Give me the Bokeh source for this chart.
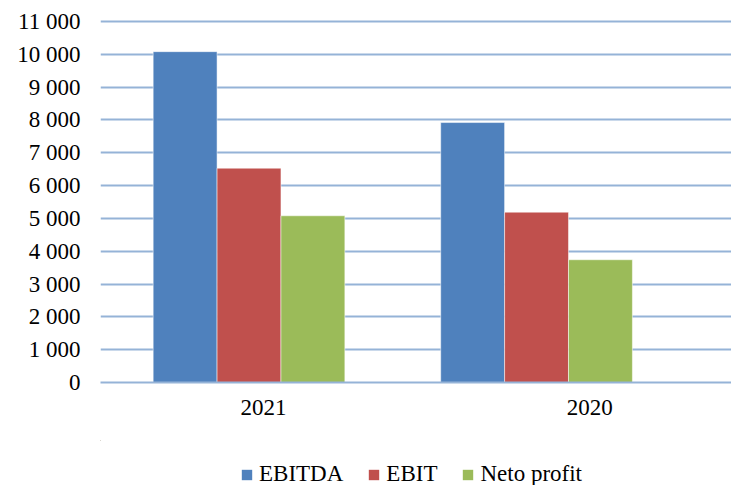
from bokeh.plotting import figure
from bokeh.layouts import column
from bokeh.models import Range1d, LinearAxis, FixedTicker, Legend, LegendItem, ColumnDataSource
from bokeh.transform import dodge
from bokeh.embed import file_html
from bokeh.resources import INLINE

# ---- data ----
years = ["2021", "2020"]
series_names = ["EBITDA", "EBIT", "Neto profit"]
ebitda = [10080, 7920]
ebit = [6530, 5190]
neto = [5080, 3740]
y_ticks = [0, 1000, 2000, 3000, 4000, 5000, 6000, 7000, 8000, 9000, 10000, 11000]
y_tick_labels = ["0", "1 000", "2 000", "3 000", "4 000", "5 000", "6 000",
                 "7 000", "8 000", "9 000", "10 000", "11 000"]
colors = ["#4F81BD", "#C0504D", "#9BBB59"]

FONT = "'Liberation Serif'"
GRID = "#95B3D7"

xc = [i + 0.5 for i in range(len(years))]
src = ColumnDataSource(dict(x=xc, ebitda=ebitda, ebit=ebit, neto=neto))
cols = ["ebitda", "ebit", "neto"]

p = figure(width=731, height=440, output_backend="svg", toolbar_location=None,
           x_range=Range1d(-0.0165, 2.178), y_range=Range1d(0, 11060),
           x_axis_type=None,
           min_border_left=100, min_border_right=0, min_border_top=19, min_border_bottom=58)
p.outline_line_color = None
p.background_fill_color = "white"

bw = 1 / 4.5
for i, (col, c) in enumerate(zip(cols, colors)):
    p.vbar(x=dodge("x", (i - 1) * bw, range=p.x_range), top=col, bottom=0, width=bw,
           source=src, fill_color=c, line_color="white", line_alpha=0.5, line_width=1)

# y axis
p.yaxis.ticker = FixedTicker(ticks=y_ticks)
p.yaxis.major_label_overrides = {t: l for t, l in zip(y_ticks, y_tick_labels)}
p.yaxis.axis_line_color = None
p.yaxis.major_tick_line_color = None
p.yaxis.minor_tick_line_color = None
p.yaxis.major_tick_out = 0
p.yaxis.major_label_standoff = 20
p.yaxis.major_label_text_font = FONT
p.yaxis.major_label_text_font_size = "23px"
p.yaxis.major_label_text_color = "black"

p.ygrid.ticker = FixedTicker(ticks=y_ticks)
p.ygrid.grid_line_color = GRID
p.ygrid.grid_line_width = 2

# category label axis
p.extra_x_ranges = {"lab": Range1d(0, 1.935)}
ax = LinearAxis(x_range_name="lab", ticker=FixedTicker(ticks=xc),
                major_label_overrides={x: y for x, y in zip(xc, years)})
ax.major_tick_line_color = None
ax.minor_tick_line_color = None
ax.major_tick_out = 0
ax.axis_line_color = GRID
ax.axis_line_width = 2
ax.major_label_standoff = 17
ax.major_label_text_font = FONT
ax.major_label_text_font_size = "23px"
ax.major_label_text_color = "black"
p.add_layout(ax, "below")

# ---- legend strip (same bars, kept far outside its visible ranges) ----
p2 = figure(width=731, height=45, output_backend="svg", toolbar_location=None,
            x_range=Range1d(100, 101), y_range=Range1d(-2, -1),
            x_axis_type=None, y_axis_type=None,
            min_border_left=0, min_border_right=0, min_border_top=0, min_border_bottom=0)
p2.outline_line_color = None
p2.xgrid.visible = False
p2.ygrid.visible = False
leg_renderers = [p2.vbar(x="x", top=col, bottom=0, width=0.1, source=src,
                         fill_color=c, line_color=None) for col, c in zip(cols, colors)]

legend = Legend(items=[LegendItem(label=n, renderers=[r]) for n, r in zip(series_names, leg_renderers)],
                orientation="horizontal", location=(140, -2))
legend.glyph_width = 13
legend.glyph_height = 13
legend.label_standoff = 6
legend.spacing = 24
legend.padding = 0
legend.margin = 0
legend.border_line_color = None
legend.background_fill_alpha = 0
legend.label_text_font = FONT
legend.label_text_font_size = "23px"
legend.label_text_color = "black"
p2.add_layout(legend, "center")

layout = column(p, p2, spacing=0)
open("out.html", "w").write(file_html(layout, INLINE))
